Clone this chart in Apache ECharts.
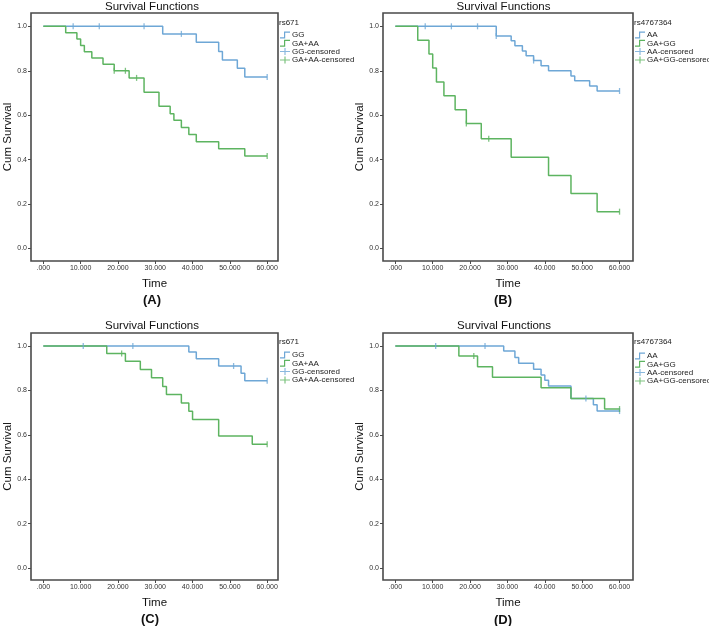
<!DOCTYPE html>
<html>
<head>
<meta charset="utf-8">
<script src="https://cdn.jsdelivr.net/npm/echarts@6/dist/echarts.min.js"></script>
<style>
html,body{margin:0;padding:0;background:#fff;}
#chart{width:709px;height:626px;}
</style>
</head>
<body>
<div id="chart"></div>
<script>
// ---------- tick values ----------
const X_TICKS = [0, 10, 20, 30, 40, 50, 60];
const Y_TICKS = [0, 0.2, 0.4, 0.6, 0.8, 1.0];

// ---------- Panel A : rs671 ----------
const A_GG_TIME = [0, 32, 41, 47, 48, 52, 54, 60];
const A_GG_SURV = [1, 0.966, 0.928, 0.887, 0.849, 0.811, 0.772, 0.772];
const A_GG_CENS = [8, 15, 27, 37, 60];
const A_GAAA_TIME = [0, 6, 9, 10, 11, 13, 16, 19, 23, 27, 31, 34, 35, 37, 39, 41, 47, 54, 60];
const A_GAAA_SURV = [1, 0.971, 0.943, 0.914, 0.886, 0.857, 0.829, 0.800, 0.768, 0.703, 0.640, 0.607, 0.577, 0.545, 0.513, 0.481, 0.449, 0.416, 0.416];
const A_GAAA_CENS = [19, 22, 25, 60];

// ---------- Panel B : rs4767364 ----------
const B_AA_TIME = [0, 27, 31, 32, 34, 35, 37, 39, 41, 47, 48, 52, 54, 60];
const B_AA_SURV = [1, 0.957, 0.935, 0.913, 0.889, 0.868, 0.846, 0.823, 0.800, 0.777, 0.755, 0.732, 0.709, 0.709];
const B_AA_CENS = [8, 15, 22, 27, 37, 60];
const B_GAGG_TIME = [0, 6, 9, 10, 11, 13, 16, 19, 23, 31, 41, 47, 54, 60];
const B_GAGG_SURV = [1, 0.9375, 0.875, 0.8125, 0.75, 0.6875, 0.625, 0.5625, 0.494, 0.411, 0.329, 0.248, 0.166, 0.166];
const B_GAGG_CENS = [19, 25, 60];

// ---------- Panel C : rs671 ----------
const C_GG_TIME = [0, 39, 41, 47, 53, 54, 60];
const C_GG_SURV = [1, 0.973, 0.943, 0.910, 0.877, 0.844, 0.844];
const C_GG_CENS = [10.7, 24, 51, 60];
const C_GAAA_TIME = [0, 17, 22, 26, 29, 32, 33, 37, 39, 40, 47, 56, 60];
const C_GAAA_SURV = [1, 0.966, 0.931, 0.894, 0.857, 0.818, 0.782, 0.743, 0.706, 0.669, 0.595, 0.557, 0.557];
const C_GAAA_CENS = [21, 60];

// ---------- Panel D : rs4767364 ----------
const D_AA_TIME = [0, 29, 32, 33, 37, 39, 40, 41, 47, 53, 54, 60];
const D_AA_SURV = [1, 0.977, 0.948, 0.922, 0.895, 0.869, 0.846, 0.820, 0.764, 0.735, 0.707, 0.707];
const D_AA_CENS = [10.8, 24, 51, 60];
const D_GAGG_TIME = [0, 17, 22, 26, 39, 47, 56, 60];
const D_GAGG_SURV = [1, 0.955, 0.907, 0.859, 0.812, 0.764, 0.716, 0.716];
const D_GAGG_CENS = [21, 60];

const PANEL_TITLE = 'Survival Functions';
const X_NAME = 'Time';
const Y_NAME = 'Cum Survival';

// ---------- styling / layout ----------
const BLUE = '#6ea7d6';
const GREEN = '#5db460';
const FRAME = '#4a4a4a';
const FONT = "'Liberation Sans', Arial, Helvetica, sans-serif";
const STEP_ICON = 'path://M0,5.8H4V0H10V1.2H5.2V7H0Z';
const CENS_ICON = 'path://M0,3H4.4V0H5.6V3H10V4H5.6V7H4.4V4H0Z';

const panels = [
  { snp: 'rs671', label: '(A)', names: ['GG', 'GA+AA'],
    curves: [[A_GG_TIME, A_GG_SURV, A_GG_CENS], [A_GAAA_TIME, A_GAAA_SURV, A_GAAA_CENS]],
    grid: { left: 31, top: 13, width: 247, height: 248 }, xr: [-3.3, 62.9], yr: [-0.056, 1.06],
    titleXY: [152, 6.5], snpXY: [279, 23], legend: { left: 280, top: 31 }, labelXY: [152, 300] },
  { snp: 'rs4767364', label: '(B)', names: ['AA', 'GA+GG'],
    curves: [[B_AA_TIME, B_AA_SURV, B_AA_CENS], [B_GAGG_TIME, B_GAGG_SURV, B_GAGG_CENS]],
    grid: { left: 383, top: 13, width: 250, height: 248 }, xr: [-3.3, 63.6], yr: [-0.056, 1.06],
    titleXY: [503.5, 6.5], snpXY: [634, 23], legend: { left: 635, top: 31 }, labelXY: [503, 300] },
  { snp: 'rs671', label: '(C)', names: ['GG', 'GA+AA'],
    curves: [[C_GG_TIME, C_GG_SURV, C_GG_CENS], [C_GAAA_TIME, C_GAAA_SURV, C_GAAA_CENS]],
    grid: { left: 31, top: 333, width: 247, height: 247 }, xr: [-3.3, 62.9], yr: [-0.054, 1.0586],
    titleXY: [152, 325.5], snpXY: [279, 342], legend: { left: 280, top: 351 }, labelXY: [150, 619] },
  { snp: 'rs4767364', label: '(D)', names: ['AA', 'GA+GG'],
    curves: [[D_AA_TIME, D_AA_SURV, D_AA_CENS], [D_GAGG_TIME, D_GAGG_SURV, D_GAGG_CENS]],
    grid: { left: 383, top: 333, width: 250, height: 247 }, xr: [-3.3, 63.6], yr: [-0.054, 1.0586],
    titleXY: [504, 325.5], snpXY: [634, 342], legend: { left: 635, top: 352 }, labelXY: [503, 620] }
];

function survAt(times, surv, t) {
  let v = surv[0];
  for (let i = 0; i < times.length; i++) if (times[i] <= t) v = surv[i];
  return v;
}

const grid = [], xAxis = [], yAxis = [], series = [], legend = [], graphic = [];
const colors = [BLUE, GREEN];

panels.forEach((p, i) => {
  grid.push(Object.assign({ show: true, borderColor: FRAME, borderWidth: 1.6, backgroundColor: '#fff', containLabel: false }, p.grid));
  xAxis.push({
    type: 'value', gridIndex: i, min: p.xr[0], max: p.xr[1], position: 'bottom',
    name: X_NAME, nameLocation: 'middle', nameGap: 17,
    nameTextStyle: { fontSize: 11.5, color: '#111', fontFamily: FONT },
    axisLine: { show: false, onZero: false }, splitLine: { show: false },
    axisTick: { show: true, customValues: X_TICKS, length: 3, inside: false, lineStyle: { color: FRAME, width: 1 } },
    axisLabel: { show: true, customValues: X_TICKS, fontSize: 7, color: '#333', fontFamily: FONT, margin: 4,
      formatter: v => (v === 0 ? '.000' : v.toFixed(3)) }
  });
  yAxis.push({
    type: 'value', gridIndex: i, min: p.yr[0], max: p.yr[1], position: 'left',
    name: Y_NAME, nameLocation: 'middle', nameGap: 17, nameRotate: 90,
    nameTextStyle: { fontSize: 11.5, color: '#111', fontFamily: FONT },
    axisLine: { show: false, onZero: false }, splitLine: { show: false },
    axisTick: { show: true, customValues: Y_TICKS, length: 3, inside: false, lineStyle: { color: FRAME, width: 1 } },
    axisLabel: { show: true, customValues: Y_TICKS, fontSize: 7, color: '#333', fontFamily: FONT, margin: 4,
      formatter: v => v.toFixed(1) }
  });
  p.curves.forEach((c, k) => {
    const [times, surv] = c;
    series.push({
      type: 'line', name: p.names[k], xAxisIndex: i, yAxisIndex: i, step: 'end',
      data: times.map((t, j) => [t, surv[j]]),
      symbol: 'none', showSymbol: false, color: colors[k],
      lineStyle: { width: 1.5, color: colors[k] }, silent: true, z: 2 + k
    });
  });
  p.curves.forEach((c, k) => {
    const [times, surv, cens] = c;
    series.push({
      type: 'scatter', name: p.names[k] + '-censored', xAxisIndex: i, yAxisIndex: i,
      data: cens.map(t => [t, survAt(times, surv, t)]),
      symbol: 'rect', symbolSize: [1.3, 6], color: colors[k],
      itemStyle: { color: colors[k] }, silent: true, z: 4 + k
    });
  });
  legend.push({
    orient: 'vertical', left: p.legend.left, top: p.legend.top, padding: 0,
    itemWidth: 10, itemHeight: 7, itemGap: 0.3, selectedMode: false, symbolKeepAspect: false,
    textStyle: { fontSize: 8, lineHeight: 8, color: '#222', fontFamily: FONT, padding: [0, 0, 0, -3] },
    data: [
      { name: p.names[0], icon: STEP_ICON },
      { name: p.names[1], icon: STEP_ICON },
      { name: p.names[0] + '-censored', icon: CENS_ICON },
      { name: p.names[1] + '-censored', icon: CENS_ICON }
    ]
  });
  graphic.push({ type: 'text', x: p.titleXY[0], y: p.titleXY[1],
    style: { text: PANEL_TITLE, font: '11.5px ' + FONT, fill: '#111', textAlign: 'center', textVerticalAlign: 'middle' } });
  graphic.push({ type: 'text', x: p.snpXY[0], y: p.snpXY[1],
    style: { text: p.snp, font: '8px ' + FONT, fill: '#222', textAlign: 'left', textVerticalAlign: 'middle' } });
  graphic.push({ type: 'text', x: p.labelXY[0], y: p.labelXY[1],
    style: { text: p.label, font: 'bold 13px ' + FONT, fill: '#111', textAlign: 'center', textVerticalAlign: 'middle' } });
});

const chart = echarts.init(document.getElementById('chart'), null, { renderer: 'canvas' });
chart.setOption({
  animation: false,
  backgroundColor: '#fff',
  grid, xAxis, yAxis, series, legend, graphic
});
</script>
</body>
</html>
